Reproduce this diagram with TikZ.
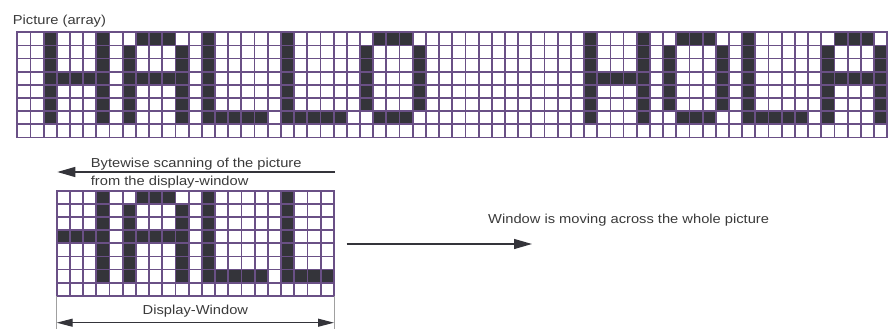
\documentclass[tikz,border=0pt]{standalone}
\usepackage{fontspec}
\usetikzlibrary{arrows.meta}
\newfontfamily\labfont[FakeStretch=1.13]{Liberation Sans}
\definecolor{gridc}{RGB}{106,80,134}
\definecolor{cellc}{RGB}{52,52,58}
\definecolor{textc}{RGB}{58,58,58}
\definecolor{dimc}{RGB}{160,160,160}
\newcommand\cellfill[2]{\fill[cellc] (#1,#2) rectangle ++(1,1);}
\newcommand\letH[1]{%
  \foreach \r in {0,...,6}{\cellfill{#1}{\r}\cellfill{#1+4}{\r}}%
  \foreach \k in {1,2,3}{\cellfill{#1+\k}{3}}}
\newcommand\letA[1]{%
  \foreach \r in {1,...,6}{\cellfill{#1}{\r}\cellfill{#1+4}{\r}}%
  \foreach \k in {1,2,3}{\cellfill{#1+\k}{0}\cellfill{#1+\k}{3}}}
\newcommand\letL[1]{%
  \foreach \r in {0,...,6}{\cellfill{#1}{\r}}%
  \foreach \k in {1,2,3,4}{\cellfill{#1+\k}{6}}}
\newcommand\letO[1]{%
  \foreach \r in {1,...,5}{\cellfill{#1}{\r}\cellfill{#1+4}{\r}}%
  \foreach \k in {1,2,3}{\cellfill{#1+\k}{0}\cellfill{#1+\k}{6}}}
\newcommand\picletters{\letH{2}\letA{8}\letL{14}\letL{20}\letO{26}\letH{43}\letO{49}\letL{55}\letA{61}}
\tikzset{
  gridline/.style={draw=gridc,line width=1.8pt},
  lab/.style={font=\labfont\fontsize{13}{15}\selectfont,text=textc,inner sep=0pt},
  arr/.style={draw=cellc,line width=1.3pt,-{Triangle[length=18pt,width=10pt]}},
  dimarr/.style={draw=cellc,line width=1.1pt,{Triangle[length=16pt,width=8pt]}-{Triangle[length=16pt,width=8pt]}},
  extline/.style={draw=dimc,line width=1pt}
}
\begin{document}
\begin{tikzpicture}[x=1pt,y=-1pt]
\useasboundingbox (0,0) rectangle (892,329);
% picture array
\begin{scope}[xshift=17.3pt,yshift=-32.3pt,x=13.18pt,y=-13.15pt]
  \picletters
  \foreach \i in {0,...,66}{\draw[gridline] (\i,0) -- (\i,8);}
  \foreach \j in {0,...,8}{\draw[gridline,line cap=rect] (0,\j) -- (66,\j);}
\end{scope}
% display window
\begin{scope}[xshift=56.7pt,yshift=-191pt,x=13.2pt,y=-13.09pt]
  \begin{scope}
    \clip (0,0) rectangle (21,8);
    \begin{scope}[xshift=-39.6pt]
      \picletters
    \end{scope}
  \end{scope}
  \foreach \i in {0,...,21}{\draw[gridline] (\i,0) -- (\i,8);}
  \foreach \j in {0,...,8}{\draw[gridline,line cap=rect] (0,\j) -- (21,\j);}
\end{scope}
% labels
\node[lab,anchor=base west] (title) at (12.7,24.5) {Picture (array)};
\node[lab,anchor=base west] (scan1) at (90.7,167) {Bytewise scanning of the picture};
\node[lab,anchor=base west] (scan2) at (90.7,185.5) {from the display-window};
\node[lab,anchor=base west] (move) at (488,223) {Window is moving across the whole picture};
\node[lab,anchor=base] (disp) at (195.4,314) {Display-Window};
% arrows
\coordinate (scanS) at (335,172);
\coordinate (scanE) at (57.3,172);
\draw[arr] (scanS) -- (scanE);
\coordinate (moveS) at (346.7,244);
\coordinate (moveE) at (532,244);
\draw[arr] (moveS) -- (moveE);
\coordinate (extLt) at (56.7,296);
\coordinate (extLb) at (56.7,329);
\coordinate (extRt) at (334,296);
\coordinate (extRb) at (334,329);
\draw[extline] (extLt) -- (extLb);
\draw[extline] (extRt) -- (extRb);
\coordinate (dimL) at (56.7,322.7);
\coordinate (dimR) at (334,322.7);
\draw[dimarr] (dimL) -- (dimR);
\end{tikzpicture}
\end{document}
